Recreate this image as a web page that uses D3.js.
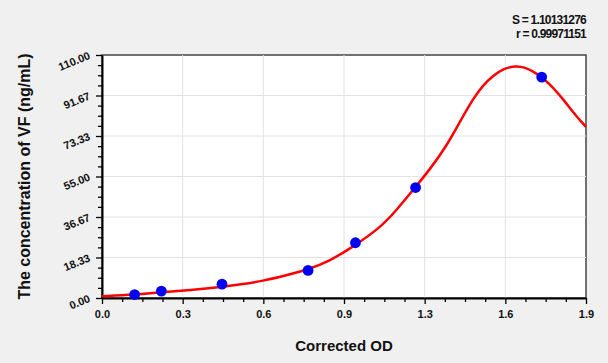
<!DOCTYPE html>
<html>
<head>
<meta charset="utf-8">
<script src="https://cdn.jsdelivr.net/npm/d3@7"></script>
<style>
body { margin: 0; background: #f0f0f0; }
svg { display: block; font-family: Arial, "Liberation Sans", sans-serif; }
</style>
</head>
<body>
<svg id="chart" width="608" height="363"></svg>
<script>
// standards (corrected OD vs concentration)
var odValues = [0.128, 0.233, 0.471, 0.809, 0.995, 1.231, 1.726];
var concValues = [1.56, 3.12, 6.25, 12.5, 25, 50, 100];

// fitted curve, points
var curveOD = [0, 0.128, 0.233, 0.344, 0.475, 0.541, 0.632, 0.724, 0.809, 0.894, 0.973, 1.091, 1.156, 1.222, 1.287, 1.353, 1.405, 1.457, 1.497, 1.536, 1.575, 1.621, 1.660, 1.706, 1.758, 1.811, 1.863, 1.9];
var curveConc = [0.77, 1.54, 2.6, 3.5, 5.0, 6.1, 7.7, 10.3, 12.9, 16.8, 22.3, 31.6, 39.8, 49.0, 58.2, 68.9, 79.8, 90.3, 96.5, 100.7, 103.8, 105.1, 104.5, 101.8, 97.0, 89.9, 82.1, 77.5];

var xTickLabels = ["0.0", "0.3", "0.6", "0.9", "1.3", "1.6", "1.9"];
var yTickLabels = ["0.00", "18.33", "36.67", "55.00", "73.33", "91.67", "110.00"];
var statLines = ["S = 1.10131276", "r = 0.99971151"];

var xMax = 1.9, yMax = 110;
// plot box (note: "top" is taken by window.top)
var plotL = 102, plotR = 586, plotT = 55, plotB = 298;

var svg = d3.select("#chart");

var x = d3.scaleLinear().domain([0, xMax]).range([plotL, plotR]);
var y = d3.scaleLinear().domain([0, yMax]).range([plotB, plotT]);

var xMajor = xTickLabels.map(function(d, i) { return i * xMax / 6; });
var yMajor = yTickLabels.map(function(d, i) { return i * yMax / 6; });
var xMinor = d3.range(25).filter(function(i) { return i % 4; }).map(function(i) { return i * xMax / 24; });
var yMinor = d3.range(25).filter(function(i) { return i % 4; }).map(function(i) { return i * yMax / 24; });

// plot area
svg.append("rect")
    .attr("x", plotL).attr("y", plotT)
    .attr("width", plotR - plotL).attr("height", plotB - plotT)
    .attr("fill", "#fff")
    .attr("stroke", "#444")
    .attr("stroke-width", 1.5);

// grid
svg.append("g").selectAll("line")
    .data(xMajor.slice(1, -1))
    .enter().append("line")
    .attr("x1", function(d) { return x(d); }).attr("x2", function(d) { return x(d); })
    .attr("y1", plotT).attr("y2", plotB)
    .attr("stroke", "#e2e2e2");
svg.append("g").selectAll("line")
    .data(yMajor.slice(1, -1))
    .enter().append("line")
    .attr("y1", function(d) { return y(d); }).attr("y2", function(d) { return y(d); })
    .attr("x1", plotL).attr("x2", plotR)
    .attr("stroke", "#e2e2e2");

// minor ticks
svg.append("g")
    .attr("transform", "translate(0," + plotB + ")")
    .call(d3.axisBottom(x).tickValues(xMinor).tickSize(4).tickFormat(""))
    .call(function(g) { g.select(".domain").remove(); g.selectAll("line").attr("stroke", "#000").attr("stroke-width", 1.3); });
svg.append("g")
    .attr("transform", "translate(" + plotL + ",0)")
    .call(d3.axisLeft(y).tickValues(yMinor).tickSize(4).tickFormat(""))
    .call(function(g) { g.select(".domain").remove(); g.selectAll("line").attr("stroke", "#000").attr("stroke-width", 1.3); });

// major axes
var xAxis = svg.append("g")
    .attr("transform", "translate(0," + plotB + ")")
    .call(d3.axisBottom(x).tickValues(xMajor).tickSize(6).tickSizeOuter(0)
        .tickFormat(function(d, i) { return xTickLabels[i]; }));
xAxis.select(".domain").attr("stroke", "#000").attr("stroke-width", 2);
xAxis.selectAll("line").attr("stroke", "#000").attr("stroke-width", 1.3);
xAxis.selectAll("text")
    .attr("y", 12)
    .attr("fill", "#111")
    .style("font-size", "11px")
    .style("font-weight", "bold")
    .style("font-family", "Arial, 'Liberation Sans', sans-serif");

var yAxis = svg.append("g")
    .attr("transform", "translate(" + plotL + ",0)")
    .call(d3.axisLeft(y).tickValues(yMajor).tickSize(6).tickSizeOuter(0)
        .tickFormat(function(d, i) { return yTickLabels[i]; }));
yAxis.select(".domain").attr("stroke", "#000").attr("stroke-width", 2);
yAxis.selectAll("line").attr("stroke", "#000").attr("stroke-width", 1.3);
yAxis.selectAll("text")
    .attr("x", null).attr("dy", null)
    .attr("transform", "translate(-11,3) rotate(-22)")
    .attr("fill", "#111")
    .style("font-size", "11px")
    .style("font-weight", "bold")
    .style("font-family", "Arial, 'Liberation Sans', sans-serif");

// fitted curve (basis spline smooths out the reading noise)
var curvePts = curveOD.map(function(d, i) { return [d, curveConc[i]]; });
var line = d3.line()
    .x(function(d) { return x(d[0]); })
    .y(function(d) { return y(d[1]); })
    .curve(d3.curveBasis);

svg.append("path")
    .datum(curvePts)
    .attr("d", line)
    .attr("fill", "none")
    .attr("stroke", "#f00")
    .attr("stroke-width", 2.5);

// standards
svg.append("g").selectAll("circle")
    .data(odValues)
    .enter().append("circle")
    .attr("cx", function(d) { return x(d); })
    .attr("cy", function(d, i) { return y(concValues[i]); })
    .attr("r", 5.4)
    .attr("fill", "#0000f0");

// titles
svg.append("text")
    .attr("x", 344).attr("y", 351)
    .attr("text-anchor", "middle")
    .style("font-size", "15px").style("font-weight", "bold")
    .attr("fill", "#111")
    .text("Corrected OD");

svg.append("text")
    .attr("transform", "translate(30," + ((plotT + plotB) / 2) + ") rotate(-90)")
    .attr("text-anchor", "middle")
    .style("font-size", "16px").style("font-weight", "bold")
    .attr("fill", "#111")
    .text("The concentration of VF (ng/mL)");

svg.append("g").selectAll("text")
    .data(statLines)
    .enter().append("text")
    .attr("x", 586)
    .attr("y", function(d, i) { return 24 + i * 14; })
    .attr("text-anchor", "end")
    .style("font-size", "12px").style("font-weight", "bold")
    .style("letter-spacing", "-0.8px")
    .attr("fill", "#111")
    .text(function(d) { return d; });
</script>
</body>
</html>
